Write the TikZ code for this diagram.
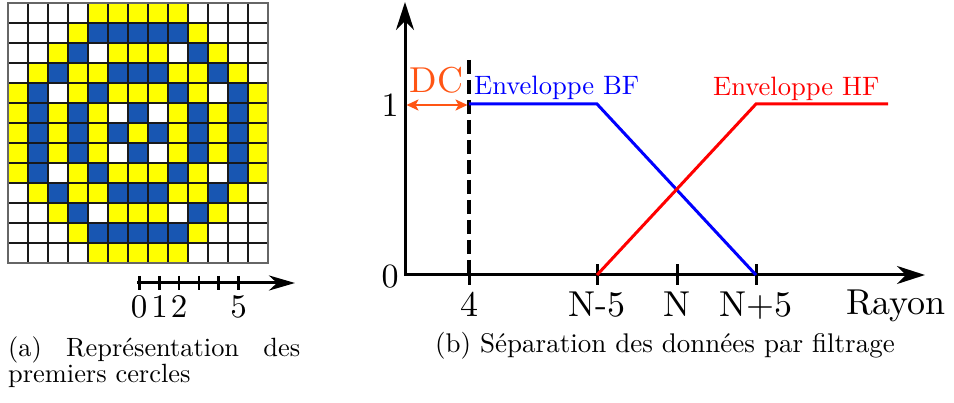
\documentclass[tikz,border=0pt]{standalone}
\usetikzlibrary{arrows.meta}
\definecolor{cellW}{RGB}{255,255,255}
\definecolor{cellY}{RGB}{255,255,0}
\definecolor{cellB}{RGB}{24,86,178}
\definecolor{dcorange}{RGB}{255,85,20}
\definecolor{bfblue}{RGB}{0,0,255}
\definecolor{hfred}{RGB}{255,0,0}
\newcommand{\sclbl}[2]{\scalebox{#1}{\fontsize{10}{12}\selectfont #2}}
\tikzset{
  cellbox/.style={draw=black!90,line width=1.8pt},
  axisline/.style={line width=3pt,draw=black,line join=miter},
  bigtip/.tip={Stealth[length=28pt,width=18pt,inset=9pt]},
  smalltip/.tip={Stealth[length=26pt,width=15pt,inset=8pt]},
  dctip/.tip={Stealth[length=12pt,width=11pt,inset=3pt]},
  tickline/.style={line width=3pt,draw=black},
  lefttick/.style={line width=2.5pt,draw=black},
  envline/.style={line width=3pt,line join=miter},
  lbl/.style={anchor=base,inner sep=0pt},
  lblw/.style={anchor=base west,inner sep=0pt}
}
\begin{document}
\begin{tikzpicture}[x=1pt,y=-1pt]
\useasboundingbox (0,0) rectangle (954,403);
% grid of circles
\foreach \row [count=\j from 0] in {
 {W,W,W,W,Y,Y,Y,Y,Y,W,W,W,W},
 {W,W,W,Y,B,B,B,B,B,Y,W,W,W},
 {W,W,Y,B,W,Y,Y,Y,W,B,Y,W,W},
 {W,Y,B,Y,Y,B,B,B,Y,Y,B,Y,W},
 {Y,B,W,Y,B,Y,Y,Y,B,Y,W,B,Y},
 {Y,B,Y,B,Y,W,B,W,Y,B,Y,B,Y},
 {Y,B,Y,B,Y,B,Y,B,Y,B,Y,B,Y},
 {Y,B,Y,B,Y,W,B,W,Y,B,Y,B,Y},
 {Y,B,W,Y,B,Y,Y,Y,B,Y,W,B,Y},
 {W,Y,B,Y,Y,B,B,B,Y,Y,B,Y,W},
 {W,W,Y,B,W,Y,Y,Y,W,B,Y,W,W},
 {W,W,W,Y,B,B,B,B,B,Y,W,W,W},
 {W,W,W,W,Y,Y,Y,Y,Y,W,W,W,W}}{
  \foreach \c [count=\i from 0] in \row {
    \filldraw[cellbox,fill=cell\c] (8+20*\i,3+20*\j) rectangle ++(20,20);
  }
}
\draw[draw=black!60,line width=1.8pt] (8,3) rectangle (268,263);
% left axis
\coordinate (la0) at (137,283);
\coordinate (laend) at (295,283);
\draw[line width=3pt,-{smalltip}] (la0) -- (laend);
\foreach \k in {0,...,5}{
  \draw[lefttick] (139.5+19.8*\k,276) -- (139.5+19.8*\k,290);
}
\node[lbl] (l0) at (139,318) {\sclbl{3.3}{0}};
\node[lbl] (l1) at (159.5,318) {\sclbl{3.3}{1}};
\node[lbl] (l2) at (179,318) {\sclbl{3.3}{2}};
\node[lbl] (l5) at (238.5,318) {\sclbl{3.3}{5}};
% caption (a)
\node[lblw] (capa1) at (8,357) {\sclbl{2.64}{\makebox[110.6pt][s]{(a) Représentation des}}};
\node[lblw] (capa2) at (8,383) {\sclbl{2.64}{premiers cercles}};
% right chart axes
\coordinate (O) at (405,275);
\coordinate (ytop) at (405,2);
\coordinate (xend) at (925,275);
\draw[axisline,{bigtip}-{bigtip}] (ytop) -- (O) -- (xend);
% ticks
\coordinate (t4) at (469,275);
\coordinate (tNm) at (597,275);
\coordinate (tN) at (677,275);
\coordinate (tNp) at (756,275);
\foreach \t in {t4,tNm,tN,tNp}{
  \draw[tickline] ([yshift=-10pt]\t) -- ([yshift=11pt]\t);
}
% dashed line
\coordinate (dtop) at (469,60);
\coordinate (dbot) at (469,275);
\draw[line width=3.2pt,dash pattern=on 14pt off 6pt] (dtop) -- (dbot);
% envelopes
\coordinate (bf1) at (469,104);
\coordinate (bf2) at (597,104);
\coordinate (hf1) at (756,104);
\coordinate (hf2) at (888,104);
\draw[envline,bfblue] (bf1) -- (bf2) -- (tNp);
\draw[envline,hfred] (tNm) -- (hf1) -- (hf2);
% DC
\coordinate (dcl) at (406.5,105);
\coordinate (dcr) at (467.5,105);
\draw[dcorange,line width=2.5pt,{dctip}-{dctip}] (dcl) -- (dcr);
\node[lbl,text=dcorange] (dc) at (436.5,93) {\sclbl{3.6}{DC}};
% labels
\node[lblw,text=bfblue] (bflab) at (474,95) {\sclbl{2.66}{Enveloppe BF}};
\node[lblw,text=hfred] (hflab) at (713,96) {\sclbl{2.66}{Enveloppe HF}};
\node[lbl] (y1) at (390,117) {\sclbl{3.4}{1}};
\node[lbl] (y0) at (390,288) {\sclbl{3.4}{0}};
\node[lbl] (x4) at (469,316.5) {\sclbl{3.6}{4}};
\node[lbl] (xNm) at (597,316.5) {\sclbl{3.6}{N-5}};
\node[lbl] (xN) at (677,316.5) {\sclbl{3.6}{N}};
\node[lbl] (xNp) at (756,316.5) {\sclbl{3.6}{N+5}};
\node[lblw] (rayon) at (846,315) {\sclbl{3.6}{Rayon}};
% caption (b)
\node[lblw] (capb) at (435,353) {\sclbl{2.7}{(b) Séparation des données par filtrage}};
\end{tikzpicture}
\end{document}
